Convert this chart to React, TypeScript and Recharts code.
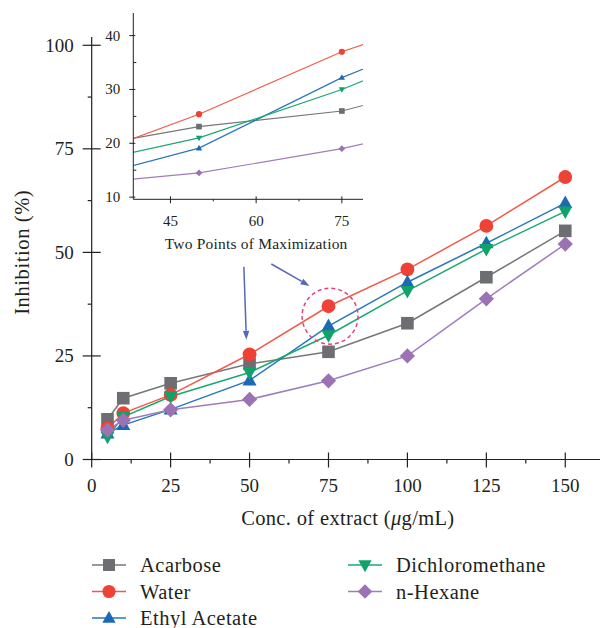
import React from 'react';
import {
  LineChart,
  Line,
  XAxis,
  YAxis,
  Legend,
  Label,
  ReferenceDot,
  ReferenceLine
} from 'recharts';

// concentrations (µg/mL) and % inhibition per extract
const CONC = [5, 10, 25, 50, 75, 100, 125, 150];
const ACARBOSE = [9.7, 14.8, 18.4, 23.1, 26.0, 32.9, 44.0, 55.2];
const WATER = [7.5, 11.2, 15.6, 25.4, 37.0, 45.9, 56.4, 68.2];
const ETHYL_ACETATE = [6.3, 8.3, 12.1, 19.1, 32.2, 42.8, 52.2, 61.9];
const DICHLOROMETHANE = [5.5, 10.3, 15.2, 21.0, 30.0, 40.7, 50.8, 59.9];
const N_HEXANE = [7.1, 9.5, 12.0, 14.5, 19.0, 25.0, 38.8, 52.0];

const X_TICKS = [0, 12.5, 25, 37.5, 50, 62.5, 75, 87.5, 100, 112.5, 125, 137.5, 150];
const Y_TICKS = [0, 12.5, 25, 37.5, 50, 62.5, 75, 87.5, 100];
const INSET_X_TICKS = [45, 52.5, 60, 67.5, 75];
const INSET_Y_TICKS = [10, 15, 20, 25, 30, 35, 40];

const FONT = '"Liberation Serif", "Times New Roman", serif';
const INK = '#231f20';

const SERIES = [
  { key: 'acarbose', name: 'Acarbose', values: ACARBOSE, color: '#6d6e71', line: '#777779', shape: 'square' },
  { key: 'water', name: 'Water', values: WATER, color: '#ef4136', line: '#f15a4a', shape: 'circle' },
  { key: 'ethyl', name: 'Ethyl Acetate', values: ETHYL_ACETATE, color: '#1c6ab3', line: '#2a76bf', shape: 'up' },
  { key: 'dcm', name: 'Dichloromethane', values: DICHLOROMETHANE, color: '#0fa36b', line: '#1aa870', shape: 'down' },
  { key: 'hexane', name: 'n-Hexane', values: N_HEXANE, color: '#9b72b3', line: '#a07cbf', shape: 'diamond' }
];

const data = CONC.map((c, i) => {
  const row: Record<string, number> = { conc: c };
  SERIES.forEach((s) => (row[s.key] = s.values[i]));
  return row;
});

const Marker = ({ shape, cx, cy, s, color }: any) => {
  if (cx == null || cy == null) return null;
  switch (shape) {
    case 'square':
      return <rect x={cx - 6.3 * s} y={cy - 6.3 * s} width={12.6 * s} height={12.6 * s} fill={color} />;
    case 'circle':
      return <circle cx={cx} cy={cy} r={6.9 * s} fill={color} />;
    case 'up':
      return (
        <polygon
          points={`${cx},${cy - 7.5 * s} ${cx + 7 * s},${cy + 5 * s} ${cx - 7 * s},${cy + 5 * s}`}
          fill={color}
        />
      );
    case 'down':
      return (
        <polygon
          points={`${cx},${cy + 7.5 * s} ${cx + 7 * s},${cy - 5 * s} ${cx - 7 * s},${cy - 5 * s}`}
          fill={color}
        />
      );
    default:
      return (
        <polygon
          points={`${cx},${cy - 7.6 * s} ${cx + 7.6 * s},${cy} ${cx},${cy + 7.6 * s} ${cx - 7.6 * s},${cy}`}
          fill={color}
        />
      );
  }
};

const dotFor = (shape: string, color: string, s: number) => (p: any) => (
  <Marker key={`dot-${p.index}`} shape={shape} cx={p.cx} cy={p.cy} s={s} color={color} />
);

// main axes ticks: major ticks cross the axis, minor ones stick out
const MainXTick = ({ x, y, payload }: any) => {
  const major = payload.value % 25 === 0;
  return (
    <g>
      <line x1={x} x2={x} y1={major ? y - 7 : y} y2={major ? y + 8 : y + 4} stroke={INK} strokeWidth={1.2} />
      {major && (
        <text x={x} y={y + 26} textAnchor="middle" dominantBaseline="central" fontFamily={FONT} fontSize={19} fill={INK}>
          {payload.value}
        </text>
      )}
    </g>
  );
};

const MainYTick = ({ x, y, payload }: any) => {
  const major = payload.value % 25 === 0;
  return (
    <g>
      <line x1={major ? x - 9 : x - 4} x2={major ? x + 9 : x} y1={y} y2={y} stroke={INK} strokeWidth={1.2} />
      {major && (
        <text x={x - 18} y={y} textAnchor="end" dominantBaseline="central" fontFamily={FONT} fontSize={19} fill={INK}>
          {payload.value}
        </text>
      )}
    </g>
  );
};

const InsetXTick = ({ x, y, payload }: any) => {
  const major = payload.value % 15 === 0;
  return (
    <g>
      <line x1={x} x2={x} y1={major ? y - 3 : y} y2={major ? y + 4 : y + 2} stroke={INK} strokeWidth={1} />
      {major && (
        <text x={x} y={y + 22} textAnchor="middle" dominantBaseline="central" fontFamily={FONT} fontSize={15} fill={INK}>
          {payload.value}
        </text>
      )}
    </g>
  );
};

const InsetYTick = ({ x, y, payload }: any) => {
  const major = payload.value % 10 === 0;
  return (
    <g>
      <line x1={major ? x - 4 : x} x2={major ? x + 2 : x + 3} y1={y} y2={y} stroke={INK} strokeWidth={1} />
      {major && (
        <text x={x - 13} y={y} textAnchor="end" dominantBaseline="central" fontFamily={FONT} fontSize={15} fill={INK}>
          {payload.value}
        </text>
      )}
    </g>
  );
};

const Arrow = (props: any) => {
  const { x1, y1, x2, y2 } = props;
  const a = Math.atan2(y2 - y1, x2 - x1);
  const len = 9;
  const w = 3.2;
  const bx = x2 - len * Math.cos(a);
  const by = y2 - len * Math.sin(a);
  const px = -Math.sin(a) * w;
  const py = Math.cos(a) * w;
  return (
    <g>
      <line x1={x1} y1={y1} x2={bx} y2={by} stroke="#5868b8" strokeWidth={1.5} />
      <polygon points={`${x2},${y2} ${bx + px},${by + py} ${bx - px},${by - py}`} fill="#5868b8" />
    </g>
  );
};

const renderLegend = () => (
  <svg width={605} height={80}>
    {SERIES.map((s, i) => {
      const col = i < 3 ? 0 : 1;
      const row = i < 3 ? i : i - 3;
      const x0 = col === 0 ? 92 : 348;
      const y = 15 + row * 26.5;
      return (
        <g key={s.key}>
          <line x1={x0} x2={x0 + 34} y1={y} y2={y} stroke={s.line} strokeWidth={1.5} />
          <Marker shape={s.shape} cx={x0 + 17} cy={y} s={0.95} color={s.color} />
          <text
            x={x0 + 48}
            y={y}
            dominantBaseline="central"
            fontFamily={FONT}
            fontSize={20.5}
            letterSpacing={0.5}
            fill={INK}
          >
            {s.name}
          </text>
        </g>
      );
    })}
  </svg>
);

export default function App() {
  return (
    <div style={{ position: 'absolute', left: 0, top: 0, width: 605, height: 628, background: '#fff' }}>
      <LineChart width={605} height={628} data={data} margin={{ top: 37, right: 5, bottom: 108.5, left: 0 }}>
        <XAxis
          dataKey="conc"
          type="number"
          domain={[0, 161]}
          ticks={X_TICKS}
          interval={0}
          tick={<MainXTick />}
          tickLine={false}
          tickSize={0}
          tickMargin={0}
          height={60}
          stroke={INK}
          strokeWidth={1.2}
        >
          <Label
            content={({ viewBox }: any) => (
              <text
                x={viewBox.x + viewBox.width / 2 + 2}
                y={viewBox.y + 58}
                textAnchor="middle"
                dominantBaseline="central"
                fontFamily={FONT}
                fontSize={20.5}
                letterSpacing={0.35}
                fill={INK}
              >
                Conc. of extract (<tspan fontStyle="italic">μ</tspan>g/mL)
              </text>
            )}
          />
        </XAxis>
        <YAxis
          type="number"
          domain={[0, 102]}
          ticks={Y_TICKS}
          interval={0}
          tick={<MainYTick />}
          tickLine={false}
          tickSize={0}
          tickMargin={0}
          width={91.7}
          stroke={INK}
          strokeWidth={1.2}
        >
          <Label
            content={({ viewBox }: any) => {
              const cx = viewBox.x + 22;
              const cy = viewBox.y + viewBox.height / 2 + 4;
              return (
                <text
                  x={cx}
                  y={cy}
                  transform={`rotate(-90 ${cx} ${cy})`}
                  textAnchor="middle"
                  dominantBaseline="central"
                  fontFamily={FONT}
                  fontSize={20.5}
                  letterSpacing={0.6}
                  fill={INK}
                >
                  Inhibition (%)
                </text>
              );
            }}
          />
        </YAxis>
        {SERIES.map((s) => (
          <Line
            key={s.key}
            dataKey={s.key}
            name={s.name}
            stroke={s.line}
            strokeWidth={1.5}
            dot={dotFor(s.shape, s.color, 1)}
            activeDot={false}
            isAnimationActive={false}
          />
        ))}
        <ReferenceDot
          x={75.5}
          y={34.6}
          r={28}
          fill="none"
          stroke="#e8417a"
          strokeWidth={1.5}
          strokeDasharray="4 3"
        />
        <ReferenceLine segment={[{ x: 48.2, y: 46.5 }, { x: 49.0, y: 28.9 }]} shape={<Arrow />} />
        <ReferenceLine segment={[{ x: 56.9, y: 47.2 }, { x: 69.0, y: 41.9 }]} shape={<Arrow />} />
        <Legend
          layout="horizontal"
          verticalAlign="middle"
          align="center"
          content={renderLegend}
          wrapperStyle={{ left: 0, top: 550, width: 605, height: 80 }}
        />
      </LineChart>

      <div style={{ position: 'absolute', left: 0, top: 0 }}>
        <LineChart width={380} height={260} data={data} margin={{ top: 13, right: 17, bottom: 10.7, left: 0 }}>
          <XAxis
            dataKey="conc"
            type="number"
            domain={[38.5, 78.7]}
            allowDataOverflow
            ticks={INSET_X_TICKS}
            interval={0}
            tick={<InsetXTick />}
            tickLine={false}
            tickSize={0}
            tickMargin={0}
            height={50}
            stroke={INK}
          >
            <Label
              content={({ viewBox }: any) => (
                <text
                  x={viewBox.x + viewBox.width / 2 + 8}
                  y={viewBox.y + 44}
                  textAnchor="middle"
                  dominantBaseline="central"
                  fontFamily={FONT}
                  fontSize={15.5}
                  letterSpacing={0.2}
                  fill={INK}
                >
                  Two Points of Maximization
                </text>
              )}
            />
          </XAxis>
          <YAxis
            type="number"
            domain={[9.6, 44.2]}
            allowDataOverflow
            ticks={INSET_Y_TICKS}
            interval={0}
            tick={<InsetYTick />}
            tickLine={false}
            tickSize={0}
            tickMargin={0}
            width={133.3}
            stroke={INK}
          />
          {SERIES.map((s) => (
            <Line
              key={s.key}
              dataKey={s.key}
              stroke={s.line}
              strokeWidth={1.2}
              dot={dotFor(s.shape, s.color, 0.45)}
              activeDot={false}
              isAnimationActive={false}
            />
          ))}
        </LineChart>
      </div>
    </div>
  );
}
